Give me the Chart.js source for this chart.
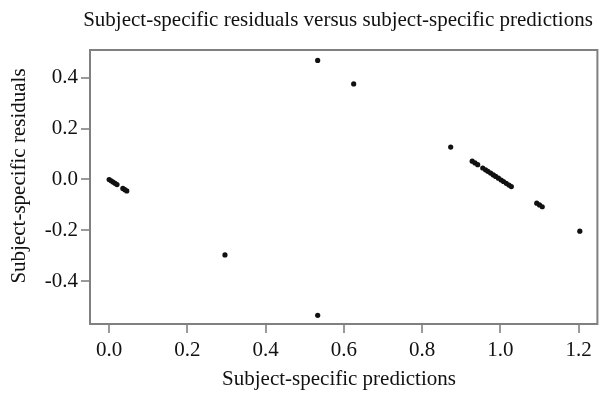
<!DOCTYPE html>
<html>
<head>
<meta charset="utf-8">
<script src="https://cdn.jsdelivr.net/npm/chart.js@4/dist/chart.umd.min.js"></script>
<style>
  html, body { margin: 0; padding: 0; background: #fff; }
  #wrap { width: 600px; height: 394px; }
</style>
</head>
<body>
<div id="wrap"><canvas id="residChart" width="600" height="394"></canvas></div>
<script>
// values
const predictions = [
  0.000, 0.005, 0.010, 0.015, 0.020, 0.035, 0.040, 0.045,
  0.296, 0.533, 0.533, 0.625, 0.873,
  0.928, 0.935, 0.942, 0.955, 0.962, 0.968, 0.975, 0.982, 0.988,
  0.995, 1.002, 1.008, 1.015, 1.022, 1.028,
  1.093, 1.100, 1.107, 1.203
];
const residuals = [
  0.000, -0.005, -0.010, -0.015, -0.020, -0.035, -0.040, -0.045,
  -0.296, 0.467, -0.533, 0.375, 0.127,
  0.072, 0.065, 0.058, 0.045, 0.038, 0.032, 0.025, 0.018, 0.012,
  0.005, -0.002, -0.008, -0.015, -0.022, -0.028,
  -0.093, -0.100, -0.107, -0.203
];
const xTicks = [0.0, 0.2, 0.4, 0.6, 0.8, 1.0, 1.2];
const yTicks = [-0.4, -0.2, 0.0, 0.2, 0.4];

const chartTitle = 'Subject-specific residuals versus subject-specific predictions';
const xTitle = 'Subject-specific predictions';
const yTitle = 'Subject-specific residuals';

const serif = '"Liberation Serif", "Times New Roman", serif';

// box around the plot + the three titles
const frameAndTitles = {
  id: 'frameAndTitles',
  afterDraw(chart) {
    const { ctx, chartArea: a } = chart;
    ctx.save();
    ctx.strokeStyle = '#808080';
    ctx.lineWidth = 2;
    ctx.strokeRect(a.left, a.top, a.right - a.left, a.bottom - a.top);

    ctx.fillStyle = '#111';
    ctx.font = '21px ' + serif;
    ctx.textAlign = 'center';
    ctx.textBaseline = 'middle';
    ctx.fillText(chartTitle, 338, 20);
    ctx.fillText(xTitle, 339, 379);
    ctx.translate(19, 176);
    ctx.rotate(-Math.PI / 2);
    ctx.fillText(yTitle, 0, 0);
    ctx.restore();
  }
};

const ctx = document.getElementById('residChart');
new Chart(ctx, {
  type: 'scatter',
  data: {
    datasets: [{
      data: predictions.map((p, i) => ({ x: p, y: residuals[i] })),
      backgroundColor: '#111',
      borderWidth: 0,
      pointRadius: 2.6,
      pointHoverRadius: 2.6
    }]
  },
  options: {
    responsive: false,
    animation: false,
    layout: { padding: { top: 50, right: 2, bottom: 0, left: 0 } },
    plugins: {
      legend: { display: false },
      tooltip: { enabled: false },
      title: { display: false }
    },
    scales: {
      x: {
        type: 'linear',
        min: -0.049,
        max: 1.248,
        afterBuildTicks: (s) => { s.ticks = xTicks.map(v => ({ value: v })); },
        afterFit: (s) => { s.height = 70; },
        border: { display: false },
        grid: { drawOnChartArea: false, drawTicks: true, tickLength: 9, color: '#9a9a9a', lineWidth: 2 },
        ticks: {
          color: '#111',
          font: { family: serif, size: 21 },
          padding: 5,
          maxRotation: 0,
          callback: (v) => Number(v).toFixed(1)
        }
      },
      y: {
        type: 'linear',
        min: -0.567,
        max: 0.508,
        afterBuildTicks: (s) => { s.ticks = yTicks.map(v => ({ value: v })); },
        afterFit: (s) => { s.width = 90; },
        border: { display: false },
        grid: { drawOnChartArea: false, drawTicks: true, tickLength: 9, color: '#9a9a9a', lineWidth: 2 },
        ticks: {
          color: '#111',
          font: { family: serif, size: 21 },
          padding: 3,
          callback: (v) => Number(v).toFixed(1)
        }
      }
    }
  },
  plugins: [frameAndTitles]
});
</script>
</body>
</html>
